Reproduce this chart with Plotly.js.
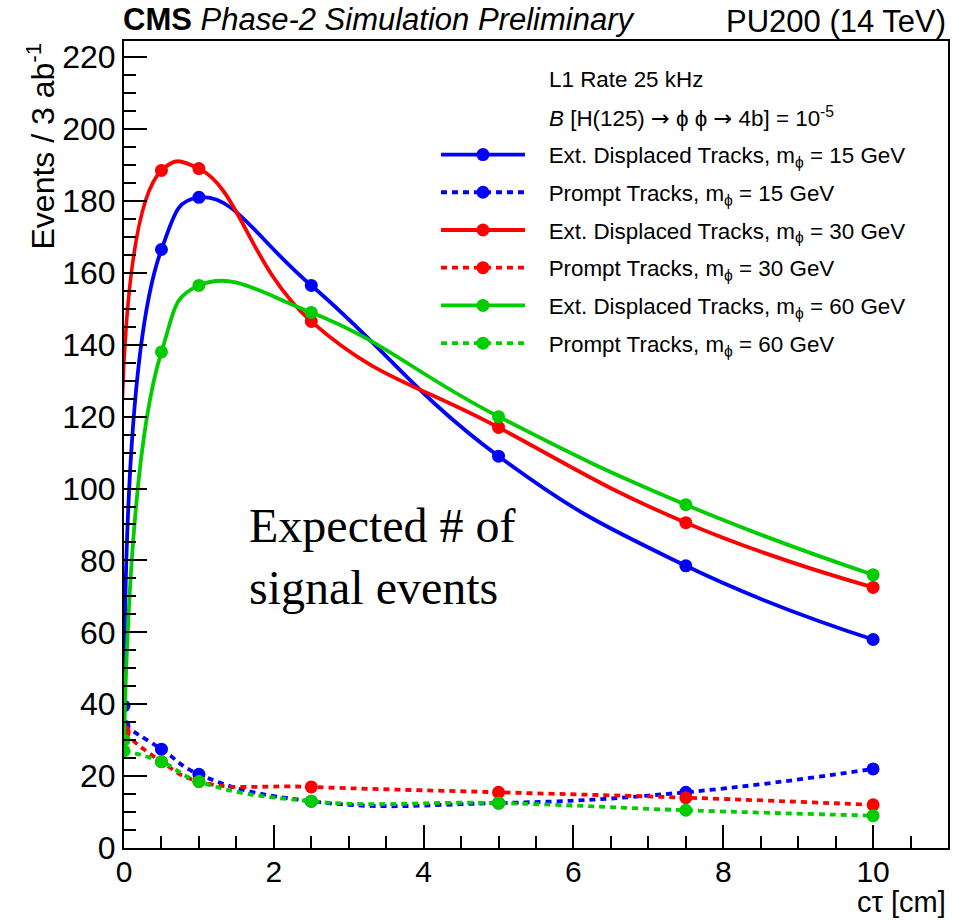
<!DOCTYPE html>
<html>
<head>
<meta charset="utf-8">
<script src="https://cdn.plot.ly/plotly-3.0.1.min.js"></script>
<style>html,body{margin:0;padding:0;background:#fff;}#chart{width:971px;height:920px;}</style>
</head>
<body>
<div id="chart"></div>
<script>
// ---- data ----
const ctau = [0, 0.5, 1, 2.5, 5, 7.5, 10];
const disp15 = [39.5, 166.5, 181, 156.5, 109, 78.5, 58];
const prompt15 = [34, 27.5, 20.5, 13, 12.5, 15.5, 22];
const disp30 = [32.5, 188.5, 189, 146.5, 117, 90.5, 72.5];
const prompt30 = [32, 24, 18.5, 17, 15.5, 14, 12];
const disp60 = [30, 138, 156.5, 149, 120, 95.5, 76];
const prompt60 = [27, 24, 18.5, 13, 12.5, 10.5, 9];

const PHI = '\u03d5';
const PAD = '\u00a0\u00a0\u00a0';
const seriesNames = [
  PAD + 'Ext. Displaced Tracks, m<sub>' + PHI + '</sub> = 15 GeV',
  PAD + 'Prompt Tracks, m<sub>' + PHI + '</sub> = 15 GeV',
  PAD + 'Ext. Displaced Tracks, m<sub>' + PHI + '</sub> = 30 GeV',
  PAD + 'Prompt Tracks, m<sub>' + PHI + '</sub> = 30 GeV',
  PAD + 'Ext. Displaced Tracks, m<sub>' + PHI + '</sub> = 60 GeV',
  PAD + 'Prompt Tracks, m<sub>' + PHI + '</sub> = 60 GeV'
];
const seriesValues = [disp15, prompt15, disp30, prompt30, disp60, prompt60];
const seriesColors = ['#0000ff', '#0000ff', '#ff0000', '#ff0000', '#00cc00', '#00cc00'];
const seriesDash = ['solid', '6px,5px', 'solid', '6px,5px', 'solid', '6px,5px'];

const xTitle = 'c\u03c4 [cm]';
const yTitle = 'Events / 3 ab<sup>-1</sup>';
const ARROW = '<span style="font-family:DejaVu Sans">\u2192</span>';

const FONT = 'Liberation Sans, Arial, sans-serif';

const traces = seriesValues.map((vals, i) => ({
  x: ctau,
  y: vals,
  type: 'scatter',
  mode: 'lines+markers',
  name: seriesNames[i],
  legendgroup: 'g' + i,
  line: {color: seriesColors[i], width: 3.8, dash: seriesDash[i], shape: 'spline', smoothing: 1.3},
  marker: {color: seriesColors[i], size: 13, symbol: 'circle'},
  cliponaxis: true
}));

const axisCommon = {
  showgrid: false,
  zeroline: false,
  showline: true,
  linecolor: '#000',
  linewidth: 2,
  mirror: true,
  ticks: 'inside',
  tickcolor: '#000',
  tickwidth: 2,
  ticklen: 23,
  tickfont: {family: FONT, size: 32, color: '#000'},
};

const layout = {
  width: 971,
  height: 920,
  margin: {l: 124, r: 23, t: 41, b: 72, pad: 0},
  paper_bgcolor: '#fff',
  plot_bgcolor: '#fff',
  font: {family: FONT, color: '#000'},
  showlegend: true,
  legend: {
    x: 0.3786, y: 0.8854, xanchor: 'left', yanchor: 'top',
    bgcolor: 'rgba(0,0,0,0)', borderwidth: 0,
    font: {family: FONT, size: 22.4, color: '#000'},
    itemwidth: 84,
    tracegroupgap: 5.6
  },
  xaxis: Object.assign({}, axisCommon, {
    range: [0, 11], dtick: 2, tick0: 0,
    tickfont: {family: FONT, size: 30, color: '#000'},
    ticklabelstandoff: -4,
    minor: {dtick: 0.5, ticklen: 12, tickwidth: 2, tickcolor: '#000', ticks: 'inside'}
  }),
  yaxis: Object.assign({}, axisCommon, {
    range: [0, 224.5], dtick: 20, tick0: 0,
    minor: {dtick: 5, ticklen: 12, tickwidth: 2, tickcolor: '#000', ticks: 'inside'}
  }),
  annotations: [
    {xref: 'paper', yref: 'paper', x: 0, y: 1, xshift: -3, yshift: 2, xanchor: 'left', yanchor: 'bottom', showarrow: false,
     text: '<b>CMS</b> <i>Phase-2 Simulation Preliminary</i>', font: {family: FONT, size: 31, color: '#000'}},
    {xref: 'paper', yref: 'paper', x: 1, y: 1, yshift: 0, xanchor: 'right', yanchor: 'bottom', showarrow: false,
     text: 'PU200 (14 TeV)', font: {family: FONT, size: 31, color: '#000'}},
    {xref: 'paper', yref: 'paper', x: 1, y: 0, yshift: -72, xanchor: 'right', yanchor: 'bottom', showarrow: false,
     text: xTitle, font: {family: FONT, size: 29, color: '#000'}},
    {xref: 'paper', yref: 'paper', x: 0, y: 1, xshift: -84, xanchor: 'center', yanchor: 'top', showarrow: false, textangle: -90,
     text: yTitle, font: {family: FONT, size: 32, color: '#000'}},
    {xref: 'paper', yref: 'paper', x: 0.5133, y: 0.9517, xanchor: 'left', yanchor: 'middle', showarrow: false,
     text: 'L1 Rate 25 kHz', font: {family: FONT, size: 22.4, color: '#000'}},
    {xref: 'paper', yref: 'paper', x: 0.5133, y: 0.9058, xanchor: 'left', yanchor: 'middle', showarrow: false,
     text: '<i>B</i> [H(125) ' + ARROW + ' ' + PHI + ' ' + PHI + ' ' + ARROW + ' 4b] = 10<sup>-5</sup>',
     font: {family: FONT, size: 22.4, color: '#000'}},
    {xref: 'x', yref: 'y', x: 1.64, y: 81, xanchor: 'left', yanchor: 'middle', showarrow: false, align: 'left',
     text: 'Expected # of<br>signal events', font: {family: 'Liberation Serif, Times New Roman, serif', size: 48, color: '#000'}}
  ]
};

Plotly.newPlot('chart', traces, layout, {displayModeBar: false, staticPlot: true});
</script>
</body>
</html>
